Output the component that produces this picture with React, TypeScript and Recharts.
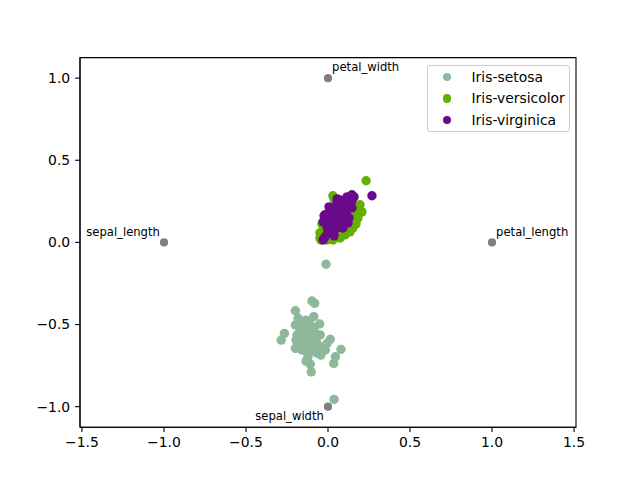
import React from 'react';
import { ScatterChart, Scatter, XAxis, YAxis, ReferenceArea, Legend } from 'recharts';

// RadViz projection of the iris measurements
const X_DOMAIN: [number, number] = [-1.512, 1.512];
const Y_DOMAIN: [number, number] = [-1.125, 1.125];
const X_TICKS = [-1.5, -1.0, -0.5, 0.0, 0.5, 1.0, 1.5];
const Y_TICKS = [-1.0, -0.5, 0.0, 0.5, 1.0];

type Pt = [number, number];

const setosa: Pt[] = [
  [-0.098, -0.357], [-0.081, -0.371], [-0.199, -0.416], [-0.087, -0.452], [-0.199, -0.503],
  [-0.051, -0.497], [-0.266, -0.554], [-0.285, -0.595], [-0.047, -0.564], [0.014, -0.59],
  [-0.006, -0.615], [0.079, -0.651], [-0.199, -0.645], [-0.016, -0.655], [0.045, -0.696],
  [0.035, -0.737], [-0.134, -0.723], [-0.108, -0.741], [-0.102, -0.788], [0.037, -0.956],
  [-0.012, -0.133], [-0.183, -0.46], [-0.159, -0.485], [-0.134, -0.473], [-0.11, -0.497],
  [-0.171, -0.521], [-0.14, -0.534], [-0.11, -0.534], [-0.085, -0.521], [-0.189, -0.564],
  [-0.159, -0.576], [-0.128, -0.57], [-0.098, -0.582], [-0.073, -0.595], [-0.177, -0.607],
  [-0.146, -0.619], [-0.116, -0.613], [-0.091, -0.631], [-0.061, -0.625], [-0.159, -0.655],
  [-0.128, -0.668], [-0.098, -0.662], [-0.067, -0.674], [-0.043, -0.686], [-0.122, -0.698],
  [-0.171, -0.546], [-0.195, -0.595], [-0.079, -0.552], [-0.049, -0.637], [-0.03, -0.655],
];

const versicolor: Pt[] = [
  [0.232, 0.375], [0.03, 0.284], [0.195, 0.229], [0.207, 0.186], [0.183, 0.149],
  [0.152, 0.088], [0.134, 0.064], [0.104, 0.046], [0.073, 0.027], [0.03, 0.015],
  [-0.006, 0.015], [-0.043, 0.015], [-0.049, 0.027], [-0.049, 0.058], [-0.03, 0.076],
  [-0.037, 0.113], [-0.012, 0.137], [0.012, 0.186], [0.049, 0.223], [0.085, 0.247],
  [0.122, 0.259], [0.165, 0.198], [0.146, 0.162], [0.122, 0.125], [0.091, 0.101],
  [0.055, 0.076], [0.018, 0.088], [0.043, 0.125], [0.073, 0.168], [0.11, 0.198],
  [0.0, 0.058], [0.061, 0.04], [0.098, 0.07], [0.171, 0.113], [0.146, 0.229],
  [0.012, 0.149], [0.037, 0.265], [0.067, 0.198], [-0.018, 0.04], [0.116, 0.095],
  [0.03, 0.168], [0.061, 0.143], [0.085, 0.137], [0.104, 0.149], [0.049, 0.107],
  [0.006, 0.113], [0.079, 0.216], [0.134, 0.18],
];

const virginica: Pt[] = [
  [0.268, 0.284], [0.146, 0.29], [0.116, 0.277], [0.055, 0.241], [0.134, 0.229],
  [0.146, 0.21], [0.085, 0.21], [0.024, 0.198], [-0.018, 0.168], [0.043, 0.168],
  [0.104, 0.155], [0.012, 0.137], [0.073, 0.125], [0.122, 0.119], [-0.006, 0.095],
  [0.055, 0.088], [0.091, 0.088], [0.012, 0.058], [-0.018, 0.034], [-0.03, 0.015],
  [0.03, 0.064], [0.073, 0.259], [0.098, 0.235], [0.061, 0.186], [0.0, 0.149],
  [0.03, 0.113], [0.085, 0.162], [0.11, 0.186], [0.049, 0.143], [0.018, 0.174],
  [0.067, 0.101], [0.037, 0.04], [0.0, 0.07], [0.098, 0.125], [0.128, 0.149],
  [0.079, 0.235], [0.049, 0.21], [0.146, 0.253], [0.159, 0.277], [0.122, 0.253],
  [-0.024, 0.162], [-0.03, 0.125], [0.006, 0.216], [0.055, 0.265],
];

const anchors = [
  { name: 'petal_length', x: 1, y: 0 },
  { name: 'petal_width', x: 0, y: 1 },
  { name: 'sepal_length', x: -1, y: 0 },
  { name: 'sepal_width', x: 0, y: -1 },
];

const SERIES = [
  { name: 'Iris-setosa', color: '#8db99a', points: setosa },
  { name: 'Iris-versicolor', color: '#64b000', points: versicolor },
  { name: 'Iris-virginica', color: '#6a0a8b', points: virginica },
];

// label placement around each anchor: horizontal anchor and vertical side
const ANCHOR_ALIGN: Record<string, { h: 'start' | 'end'; v: 'top' | 'bottom' }> = {
  petal_length: { h: 'start', v: 'bottom' },
  petal_width: { h: 'start', v: 'bottom' },
  sepal_length: { h: 'end', v: 'bottom' },
  sepal_width: { h: 'end', v: 'top' },
};

const FONT = '"DejaVu Sans", sans-serif';
const DOT_R = 4.7;
const ANCHOR_R = 4.1;
const LABEL_FONT = 11.6;

const fmt = (v: number) => v.toFixed(1).replace('-', '\u2212');

const makeDot = (color: string) => (props: any) => {
  const { cx, cy } = props;
  if (cx == null || cy == null) return <g />;
  return <circle cx={cx} cy={cy} r={DOT_R} fill={color} />;
};

const AnchorShape = (props: any) => {
  const { cx, cy, payload } = props;
  if (cx == null || cy == null) return <g />;
  const a = ANCHOR_ALIGN[payload.name];
  const off = ANCHOR_R;
  const tx = a.h === 'start' ? cx + off : cx - off;
  const ty = a.v === 'bottom' ? cy - off - 2.7 : cy + off + 8.8;
  return (
    <g>
      <circle cx={cx} cy={cy} r={ANCHOR_R} fill="#808080" />
      <text x={tx} y={ty} textAnchor={a.h} fontFamily={FONT} fontSize={LABEL_FONT} fill="#000">
        {payload.name}
      </text>
    </g>
  );
};

const LegendBox = () => (
  <div
    style={{
      position: 'relative',
      boxSizing: 'border-box',
      width: 143,
      height: 67,
      border: '1px solid #cccccc',
      borderRadius: 3,
      background: 'rgba(255,255,255,0.8)',
      fontFamily: FONT,
      fontSize: 13.9,
      color: '#000',
    }}
  >
    {SERIES.map((s, i) => (
      <div
        key={s.name}
        style={{ position: 'absolute', left: 0, top: 1 + i * 21.7, height: 20, width: 141 }}
      >
        <span
          style={{
            position: 'absolute',
            left: 15.3,
            top: 6,
            width: 8.6,
            height: 8.6,
            borderRadius: '50%',
            background: s.color,
          }}
        />
        <span style={{ position: 'absolute', left: 44, top: 0, lineHeight: '20px', whiteSpace: 'nowrap' }}>
          {s.name}
        </span>
      </div>
    ))}
  </div>
);

export default function App() {
  const tickStyle = { fill: '#000', fontSize: 13.9, fontFamily: FONT };
  return (
    <div style={{ position: 'absolute', left: 0, top: 0, width: 640, height: 480, background: '#fff' }}>
      <ScatterChart width={640} height={480} margin={{ top: 57.6, right: 64, bottom: 22.8, left: 30 }}>
        <XAxis
          type="number"
          dataKey="x"
          domain={X_DOMAIN}
          ticks={X_TICKS}
          interval={0}
          allowDataOverflow
          tickFormatter={fmt}
          tick={tickStyle}
          tickSize={4.9}
          tickMargin={5.5}
          tickLine={{ stroke: '#000', strokeWidth: 1.1 }}
          axisLine={{ stroke: '#000', strokeWidth: 1.1 }}
          height={30}
        />
        <YAxis
          type="number"
          dataKey="y"
          domain={Y_DOMAIN}
          ticks={Y_TICKS}
          interval={0}
          allowDataOverflow
          tickFormatter={fmt}
          tick={tickStyle}
          tickSize={4.9}
          tickMargin={4.9}
          tickLine={{ stroke: '#000', strokeWidth: 1.1 }}
          axisLine={{ stroke: '#000', strokeWidth: 1.1 }}
          width={50}
        />
        <ReferenceArea
          x1={X_DOMAIN[0]}
          x2={X_DOMAIN[1]}
          y1={Y_DOMAIN[0]}
          y2={Y_DOMAIN[1]}
          fill="none"
          stroke="#000"
          strokeWidth={1.1}
          ifOverflow="visible"
        />
        {SERIES.map((s) => (
          <Scatter
            key={s.name}
            name={s.name}
            data={s.points.map(([x, y]) => ({ x, y }))}
            fill={s.color}
            shape={makeDot(s.color)}
            isAnimationActive={false}
          />
        ))}
        <Scatter
          name="anchors"
          data={anchors}
          fill="#808080"
          shape={AnchorShape}
          legendType="none"
          isAnimationActive={false}
        />
        <Legend
          layout="vertical"
          align="center"
          verticalAlign="middle"
          wrapperStyle={{ left: 426.5, top: 64.5, width: 143, height: 67 }}
          content={() => <LegendBox />}
        />
      </ScatterChart>
    </div>
  );
}
